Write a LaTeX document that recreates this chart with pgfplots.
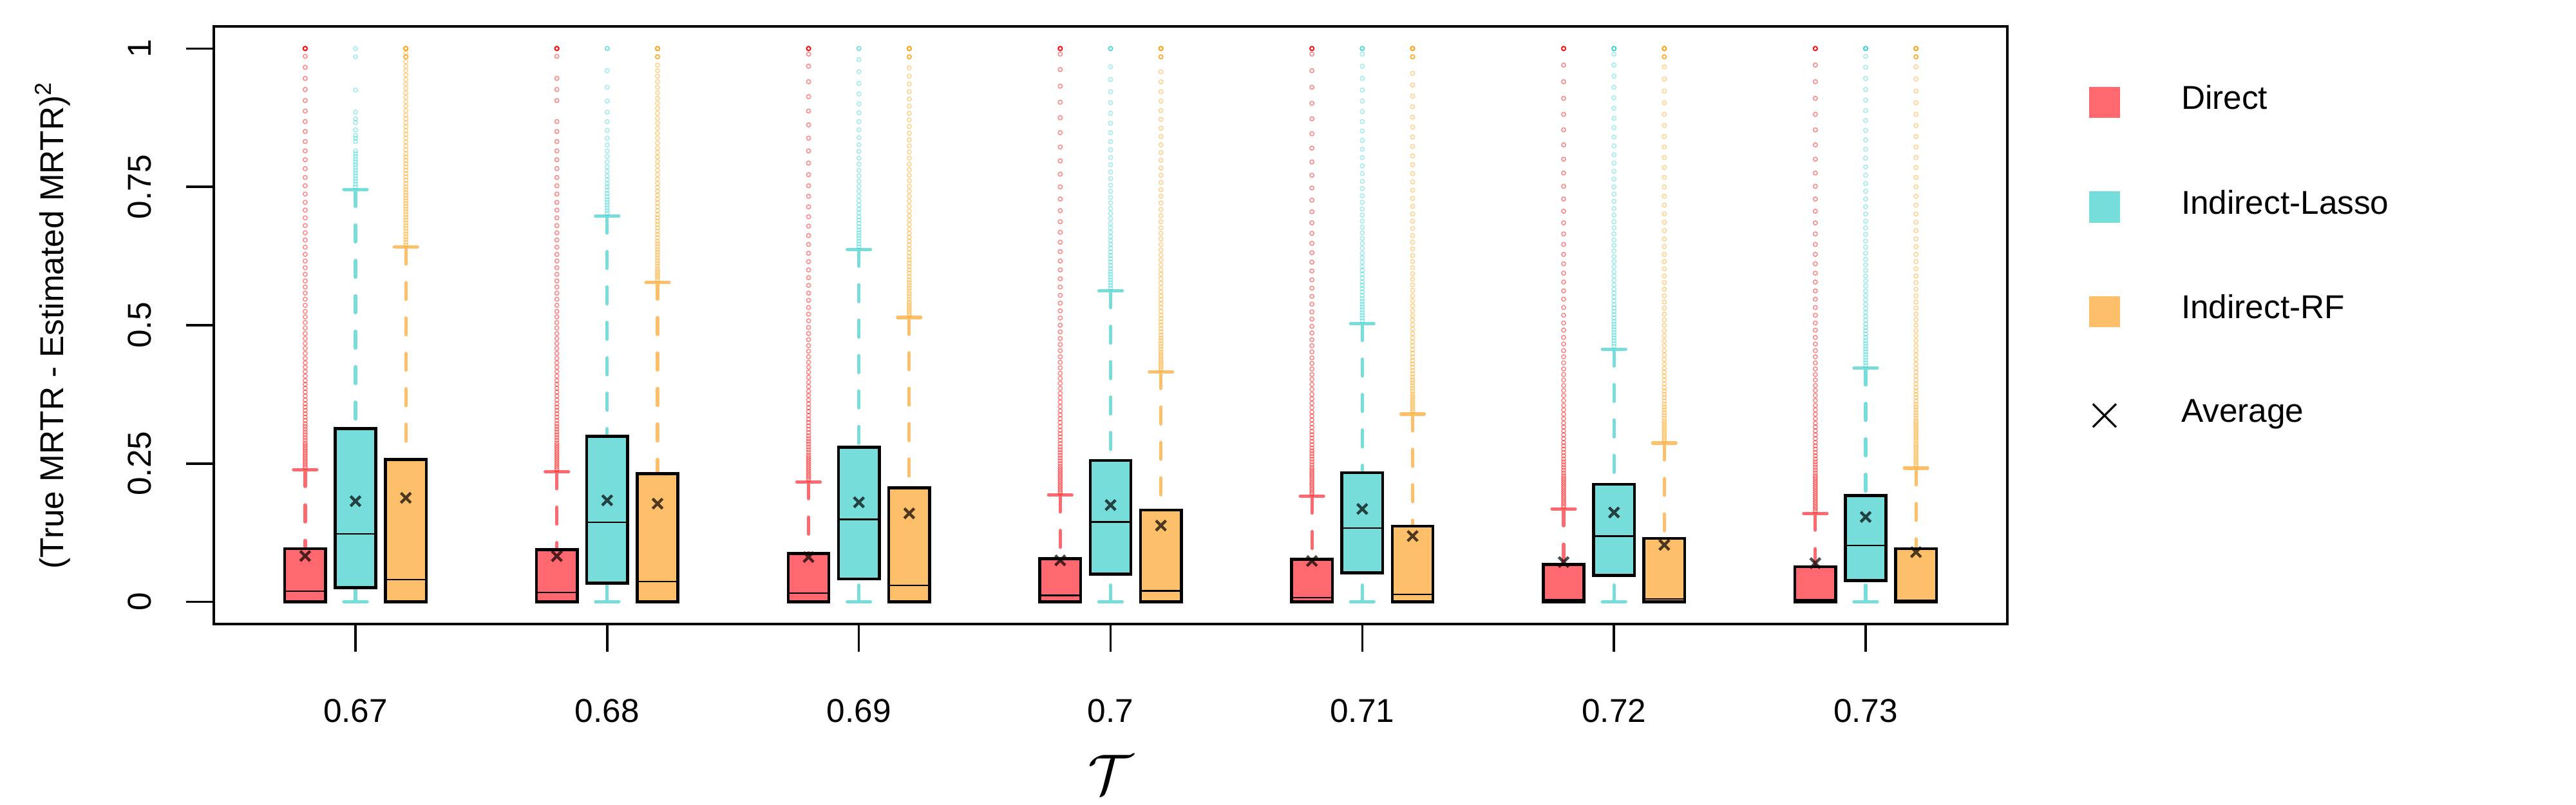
\documentclass[border=0pt]{standalone}
\usepackage{fontspec}
\setmainfont{Liberation Sans}
\usepackage{pgfplots}
\pgfplotsset{compat=1.18}
\usepgfplotslibrary{statistics}
\definecolor{dfill}{RGB}{255,104,110}
\definecolor{lfill}{RGB}{118,221,218}
\definecolor{rfill}{RGB}{253,191,106}
\definecolor{dout}{RGB}{255,0,0}
\definecolor{lout}{RGB}{0,200,200}
\definecolor{rout}{RGB}{255,153,0}
\newcommand{\fs}{\fontsize{14.6}{17}\selectfont}
\pgfplotsset{
  bxcommon/.style={
    boxplot/draw direction=y,
    boxplot/box extend=0.162,
    boxplot/whisker extend=0,
    boxplot/every whisker/.style={draw=none},
    boxplot/every median/.style={draw=black, line width=0.65pt},
    mark=o, mark size=0.9pt,
  },
  dbox/.style={bxcommon,
    boxplot/every box/.style={draw=black, line width=1.3pt, fill=dfill},
    mark options={solid, draw=dout, draw opacity=0.45, fill opacity=0, line width=0.45pt}},
  lbox/.style={bxcommon,
    boxplot/every box/.style={draw=black, line width=1.3pt, fill=lfill},
    mark options={solid, draw=lout, draw opacity=0.35, fill opacity=0, line width=0.45pt}},
  rbox/.style={bxcommon,
    boxplot/every box/.style={draw=black, line width=1.3pt, fill=rfill},
    mark options={solid, draw=rout, draw opacity=0.42, fill opacity=0, line width=0.45pt}},
  whisk/.style={#1, line width=1.5pt, line cap=round, dash pattern=on 0.26cm off 0.29cm, unbounded coords=jump, forget plot},
  staple/.style={#1, line width=1.5pt, line cap=round, unbounded coords=jump, forget plot},
}
\begin{document}
\begin{tikzpicture}
\path[use as bounding box] (-3.32,-2.81) rectangle (36.68,9.69);
\begin{axis}[
  at={(0,0)}, anchor=south west,
  scale only axis, width=27.85cm, height=9.28cm,
  xmin=0.437, xmax=7.563, ymin=-0.04, ymax=1.04,
  axis line style={line width=1pt},
  tick align=outside, tick pos=left,
  major tick length=0.43cm,
  every tick/.style={black, line width=1pt},
  xtick={1,2,3,4,5,6,7},
  xticklabels={0.67,0.68,0.69,0.7,0.71,0.72,0.73},
  ytick={0,0.25,0.5,0.75,1},
  yticklabels={0,0.25,0.5,0.75,1},
  /pgf/number format/assume math mode=true,
  ticklabel style={font=\fs},
  xticklabel style={anchor=base, yshift=-1.09cm},
  yticklabel style={rotate=90, anchor=base, yshift=0.54cm},
  xlabel={$\mathcal{T}$},
  xlabel style={at={(axis description cs:0.5,-0.2834)}, anchor=base, font=\fontsize{33}{40}\selectfont},
  ylabel={(True MRTR - Estimated MRTR)\textsuperscript{2}},
  ylabel style={at={(axis description cs:-0.084,0.5)}, anchor=base, font=\fs},
  legend style={at={(1,1)}, anchor=north west, xshift=1.26cm, yshift=-0.91cm,
    draw=none, fill=none, inner sep=0pt, row sep=1.12cm, column sep=0.95cm, font=\fs,
    nodes={inner sep=0pt}},
  legend cell align=left,
]
\addlegendimage{legend image code/.code={\fill[dfill] (0cm,-0.285cm) rectangle (0.47cm,0.185cm);}}
\addlegendimage{legend image code/.code={\fill[lfill] (0cm,-0.285cm) rectangle (0.47cm,0.185cm);}}
\addlegendimage{legend image code/.code={\fill[rfill] (0cm,-0.285cm) rectangle (0.47cm,0.185cm);}}
\addlegendimage{legend image code/.code={\draw[black, line width=0.9pt] (0.055cm,-0.23cm) -- (0.415cm,0.13cm) (0.055cm,0.13cm) -- (0.415cm,-0.23cm);}}

% ---------- whiskers (dashed, from whisker end to box) ----------
\addplot[whisk=dfill] coordinates {
 (0.8,0.239)(0.8,0.096) (nan,nan) (1.8,0.235)(1.8,0.0945) (nan,nan) (2.8,0.217)(2.8,0.0875) (nan,nan)
 (3.8,0.193)(3.8,0.0778) (nan,nan) (4.8,0.191)(4.8,0.077) (nan,nan) (5.8,0.168)(5.8,0.0675) (nan,nan) (6.8,0.160)(6.8,0.0638)};
\addplot[whisk=lfill] coordinates {
 (1,0.745)(1,0.313) (nan,nan) (2,0.697)(2,0.299) (nan,nan) (3,0.637)(3,0.2795) (nan,nan)
 (4,0.562)(4,0.2557) (nan,nan) (5,0.5026)(5,0.2335) (nan,nan) (6,0.4566)(6,0.2127) (nan,nan) (7,0.4225)(7,0.192)
 (nan,nan) (1,0)(1,0.0256) (nan,nan) (2,0)(2,0.0338) (nan,nan) (3,0)(3,0.0415) (nan,nan) (4,0)(4,0.0504)
 (nan,nan) (5,0)(5,0.0526) (nan,nan) (6,0)(6,0.048) (nan,nan) (7,0)(7,0.0385)};
\addplot[whisk=rfill] coordinates {
 (1.2,0.641)(1.2,0.2575) (nan,nan) (2.2,0.5775)(2.2,0.2316) (nan,nan) (3.2,0.514)(3.2,0.206) (nan,nan)
 (4.2,0.416)(4.2,0.166) (nan,nan) (5.2,0.3395)(5.2,0.137) (nan,nan) (6.2,0.287)(6.2,0.115) (nan,nan) (7.2,0.2417)(7.2,0.0964)};
% ---------- staples ----------
\addplot[staple=dfill] coordinates {
 (0.754,0.239)(0.846,0.239) (nan,nan) (1.754,0.235)(1.846,0.235) (nan,nan) (2.754,0.217)(2.846,0.217) (nan,nan)
 (3.754,0.193)(3.846,0.193) (nan,nan) (4.754,0.191)(4.846,0.191) (nan,nan) (5.754,0.168)(5.846,0.168) (nan,nan) (6.754,0.160)(6.846,0.160)};
\addplot[staple=lfill] coordinates {
 (0.954,0.745)(1.046,0.745) (nan,nan) (1.954,0.697)(2.046,0.697) (nan,nan) (2.954,0.637)(3.046,0.637) (nan,nan)
 (3.954,0.562)(4.046,0.562) (nan,nan) (4.954,0.5026)(5.046,0.5026) (nan,nan) (5.954,0.4566)(6.046,0.4566) (nan,nan) (6.954,0.4225)(7.046,0.4225)
 (nan,nan) (0.954,0)(1.046,0) (nan,nan) (1.954,0)(2.046,0) (nan,nan) (2.954,0)(3.046,0) (nan,nan) (3.954,0)(4.046,0)
 (nan,nan) (4.954,0)(5.046,0) (nan,nan) (5.954,0)(6.046,0) (nan,nan) (6.954,0)(7.046,0)};
\addplot[staple=rfill] coordinates {
 (1.154,0.641)(1.246,0.641) (nan,nan) (2.154,0.5775)(2.246,0.5775) (nan,nan) (3.154,0.514)(3.246,0.514) (nan,nan)
 (4.154,0.416)(4.246,0.416) (nan,nan) (5.154,0.3395)(5.246,0.3395) (nan,nan) (6.154,0.287)(6.246,0.287) (nan,nan) (7.154,0.2417)(7.246,0.2417)};

% ---------- tau = 0.67 ----------
\addplot[boxplot prepared={draw position=0.8, lower whisker=0, lower quartile=0, median=0.0197, upper quartile=0.096, upper whisker=0.096}, dbox]
 table[row sep=\\, y index=0] {v\\ 0.243\\ 0.247\\ 0.251\\ 0.255\\ 0.259\\ 0.263\\ 0.267\\ 0.271\\ 0.275\\ 0.279\\ 0.283\\ 0.287\\ 0.292\\ 0.297\\ 0.302\\ 0.307\\ 0.312\\ 0.317\\ 0.322\\ 0.328\\ 0.334\\ 0.34\\ 0.346\\ 0.352\\ 0.358\\ 0.365\\ 0.372\\ 0.379\\ 0.386\\ 0.393\\ 0.4\\ 0.408\\ 0.416\\ 0.424\\ 0.432\\ 0.44\\ 0.449\\ 0.458\\ 0.467\\ 0.476\\ 0.485\\ 0.495\\ 0.505\\ 0.515\\ 0.525\\ 0.536\\ 0.547\\ 0.558\\ 0.569\\ 0.58\\ 0.592\\ 0.604\\ 0.616\\ 0.628\\ 0.641\\ 0.654\\ 0.667\\ 0.68\\ 0.694\\ 0.708\\ 0.722\\ 0.737\\ 0.752\\ 0.767\\ 0.783\\ 0.799\\ 0.815\\ 0.832\\ 0.85\\ 0.868\\ 0.887\\ 0.906\\ 0.926\\ 0.946\\ 0.966\\ 0.986\\ 1\\ 1\\ 1\\ 1\\ 1\\ 1\\};
\addplot[boxplot prepared={draw position=1, lower whisker=0.0256, lower quartile=0.0256, median=0.1226, upper quartile=0.313, upper whisker=0.313}, lbox]
 table[row sep=\\, y index=0] {v\\ 0.75\\ 0.755\\ 0.76\\ 0.765\\ 0.77\\ 0.775\\ 0.78\\ 0.785\\ 0.79\\ 0.795\\ 0.8\\ 0.805\\ 0.81\\ 0.815\\ 0.832\\ 0.838\\ 0.843\\ 0.853\\ 0.866\\ 0.873\\ 0.885\\ 0.925\\ 0.985\\ 1\\};
\addplot[boxplot prepared={draw position=1.2, lower whisker=0, lower quartile=0, median=0.0405, upper quartile=0.2575, upper whisker=0.2575}, rbox]
 table[row sep=\\, y index=0] {v\\ 0.645\\ 0.65\\ 0.655\\ 0.66\\ 0.665\\ 0.67\\ 0.675\\ 0.68\\ 0.685\\ 0.69\\ 0.695\\ 0.7\\ 0.705\\ 0.71\\ 0.715\\ 0.72\\ 0.725\\ 0.73\\ 0.735\\ 0.74\\ 0.745\\ 0.75\\ 0.756\\ 0.762\\ 0.768\\ 0.774\\ 0.78\\ 0.786\\ 0.792\\ 0.798\\ 0.804\\ 0.81\\ 0.817\\ 0.824\\ 0.831\\ 0.838\\ 0.845\\ 0.852\\ 0.859\\ 0.866\\ 0.873\\ 0.88\\ 0.888\\ 0.896\\ 0.904\\ 0.912\\ 0.92\\ 0.928\\ 0.936\\ 0.944\\ 0.952\\ 0.96\\ 0.968\\ 0.976\\ 0.985\\ 0.985\\ 0.985\\ 0.992\\ 1\\ 1\\ 1\\ 1\\ 1\\};

% ---------- tau = 0.68 ----------
\addplot[boxplot prepared={draw position=1.8, lower whisker=0, lower quartile=0, median=0.0168, upper quartile=0.0945, upper whisker=0.0945}, dbox]
 table[row sep=\\, y index=0] {v\\ 0.239\\ 0.243\\ 0.247\\ 0.251\\ 0.255\\ 0.259\\ 0.263\\ 0.267\\ 0.271\\ 0.275\\ 0.279\\ 0.283\\ 0.287\\ 0.292\\ 0.297\\ 0.302\\ 0.307\\ 0.312\\ 0.317\\ 0.322\\ 0.328\\ 0.334\\ 0.34\\ 0.346\\ 0.352\\ 0.358\\ 0.365\\ 0.372\\ 0.379\\ 0.386\\ 0.393\\ 0.4\\ 0.408\\ 0.416\\ 0.424\\ 0.432\\ 0.44\\ 0.449\\ 0.458\\ 0.467\\ 0.476\\ 0.485\\ 0.495\\ 0.505\\ 0.515\\ 0.525\\ 0.536\\ 0.547\\ 0.558\\ 0.569\\ 0.58\\ 0.592\\ 0.604\\ 0.616\\ 0.628\\ 0.641\\ 0.654\\ 0.667\\ 0.68\\ 0.694\\ 0.708\\ 0.722\\ 0.737\\ 0.752\\ 0.767\\ 0.783\\ 0.799\\ 0.815\\ 0.832\\ 0.85\\ 0.868\\ 0.906\\ 0.926\\ 0.946\\ 0.986\\ 1\\ 1\\ 1\\ 1\\ 1\\ 1\\};
\addplot[boxplot prepared={draw position=2, lower whisker=0.0338, lower quartile=0.0338, median=0.144, upper quartile=0.299, upper whisker=0.299}, lbox]
 table[row sep=\\, y index=0] {v\\ 0.702\\ 0.707\\ 0.712\\ 0.717\\ 0.722\\ 0.727\\ 0.732\\ 0.738\\ 0.744\\ 0.75\\ 0.756\\ 0.763\\ 0.77\\ 0.778\\ 0.786\\ 0.795\\ 0.805\\ 0.815\\ 0.826\\ 0.838\\ 0.852\\ 0.868\\ 0.885\\ 0.905\\ 0.93\\ 0.96\\ 1\\ 1\\};
\addplot[boxplot prepared={draw position=2.2, lower whisker=0, lower quartile=0, median=0.0368, upper quartile=0.2316, upper whisker=0.2316}, rbox]
 table[row sep=\\, y index=0] {v\\ 0.582\\ 0.586\\ 0.59\\ 0.594\\ 0.598\\ 0.602\\ 0.607\\ 0.612\\ 0.617\\ 0.622\\ 0.627\\ 0.632\\ 0.637\\ 0.642\\ 0.647\\ 0.652\\ 0.658\\ 0.664\\ 0.67\\ 0.676\\ 0.682\\ 0.688\\ 0.694\\ 0.7\\ 0.707\\ 0.714\\ 0.721\\ 0.728\\ 0.735\\ 0.742\\ 0.749\\ 0.756\\ 0.764\\ 0.772\\ 0.78\\ 0.788\\ 0.796\\ 0.804\\ 0.812\\ 0.82\\ 0.829\\ 0.838\\ 0.847\\ 0.856\\ 0.865\\ 0.874\\ 0.883\\ 0.892\\ 0.901\\ 0.91\\ 0.92\\ 0.93\\ 0.94\\ 0.95\\ 0.96\\ 0.97\\ 0.985\\ 0.985\\ 0.985\\ 1\\ 1\\ 1\\ 1\\ 1\\};

% ---------- tau = 0.69 ----------
\addplot[boxplot prepared={draw position=2.8, lower whisker=0, lower quartile=0, median=0.0156, upper quartile=0.0875, upper whisker=0.0875}, dbox]
 table[row sep=\\, y index=0] {v\\ 0.221\\ 0.225\\ 0.229\\ 0.233\\ 0.237\\ 0.241\\ 0.245\\ 0.249\\ 0.253\\ 0.257\\ 0.261\\ 0.265\\ 0.27\\ 0.275\\ 0.28\\ 0.285\\ 0.29\\ 0.295\\ 0.3\\ 0.306\\ 0.312\\ 0.318\\ 0.324\\ 0.33\\ 0.337\\ 0.344\\ 0.351\\ 0.358\\ 0.365\\ 0.373\\ 0.381\\ 0.389\\ 0.397\\ 0.406\\ 0.415\\ 0.424\\ 0.433\\ 0.443\\ 0.453\\ 0.463\\ 0.474\\ 0.485\\ 0.496\\ 0.508\\ 0.52\\ 0.532\\ 0.545\\ 0.558\\ 0.572\\ 0.586\\ 0.6\\ 0.615\\ 0.63\\ 0.646\\ 0.662\\ 0.679\\ 0.696\\ 0.714\\ 0.733\\ 0.752\\ 0.772\\ 0.793\\ 0.815\\ 0.838\\ 0.862\\ 0.887\\ 0.913\\ 0.94\\ 0.968\\ 0.99\\ 1\\ 1\\ 1\\ 1\\ 1\\};
\addplot[boxplot prepared={draw position=3, lower whisker=0.0415, lower quartile=0.0415, median=0.149, upper quartile=0.2795, upper whisker=0.2795}, lbox]
 table[row sep=\\, y index=0] {v\\ 0.642\\ 0.647\\ 0.652\\ 0.657\\ 0.662\\ 0.667\\ 0.672\\ 0.678\\ 0.684\\ 0.69\\ 0.696\\ 0.703\\ 0.71\\ 0.717\\ 0.725\\ 0.733\\ 0.742\\ 0.751\\ 0.76\\ 0.77\\ 0.78\\ 0.791\\ 0.802\\ 0.814\\ 0.826\\ 0.839\\ 0.853\\ 0.868\\ 0.884\\ 0.9\\ 0.918\\ 0.937\\ 0.958\\ 0.98\\ 1\\ 1\\};
\addplot[boxplot prepared={draw position=3.2, lower whisker=0, lower quartile=0, median=0.0297, upper quartile=0.206, upper whisker=0.206}, rbox]
 table[row sep=\\, y index=0] {v\\ 0.518\\ 0.522\\ 0.526\\ 0.53\\ 0.534\\ 0.538\\ 0.542\\ 0.547\\ 0.552\\ 0.557\\ 0.562\\ 0.567\\ 0.572\\ 0.577\\ 0.582\\ 0.588\\ 0.594\\ 0.6\\ 0.606\\ 0.612\\ 0.618\\ 0.624\\ 0.631\\ 0.638\\ 0.645\\ 0.652\\ 0.659\\ 0.666\\ 0.674\\ 0.682\\ 0.69\\ 0.698\\ 0.706\\ 0.715\\ 0.724\\ 0.733\\ 0.742\\ 0.751\\ 0.761\\ 0.771\\ 0.781\\ 0.791\\ 0.802\\ 0.813\\ 0.824\\ 0.835\\ 0.847\\ 0.859\\ 0.871\\ 0.883\\ 0.896\\ 0.909\\ 0.922\\ 0.936\\ 0.95\\ 0.965\\ 0.985\\ 0.985\\ 0.985\\ 1\\ 1\\ 1\\ 1\\ 1\\};

% ---------- tau = 0.70 ----------
\addplot[boxplot prepared={draw position=3.8, lower whisker=0, lower quartile=0, median=0.0119, upper quartile=0.0778, upper whisker=0.0778}, dbox]
 table[row sep=\\, y index=0] {v\\ 0.197\\ 0.201\\ 0.205\\ 0.209\\ 0.213\\ 0.217\\ 0.221\\ 0.225\\ 0.229\\ 0.233\\ 0.237\\ 0.241\\ 0.245\\ 0.25\\ 0.255\\ 0.26\\ 0.265\\ 0.27\\ 0.275\\ 0.28\\ 0.286\\ 0.292\\ 0.298\\ 0.304\\ 0.31\\ 0.317\\ 0.324\\ 0.331\\ 0.338\\ 0.345\\ 0.353\\ 0.361\\ 0.369\\ 0.377\\ 0.386\\ 0.395\\ 0.404\\ 0.413\\ 0.423\\ 0.433\\ 0.443\\ 0.454\\ 0.465\\ 0.476\\ 0.488\\ 0.5\\ 0.513\\ 0.526\\ 0.54\\ 0.554\\ 0.569\\ 0.584\\ 0.6\\ 0.616\\ 0.633\\ 0.65\\ 0.668\\ 0.687\\ 0.707\\ 0.728\\ 0.75\\ 0.773\\ 0.797\\ 0.822\\ 0.848\\ 0.875\\ 0.903\\ 0.932\\ 0.962\\ 0.99\\ 1\\ 1\\ 1\\ 1\\ 1\\};
\addplot[boxplot prepared={draw position=4, lower whisker=0.0504, lower quartile=0.0504, median=0.1446, upper quartile=0.2557, upper whisker=0.2557}, lbox]
 table[row sep=\\, y index=0] {v\\ 0.567\\ 0.572\\ 0.577\\ 0.582\\ 0.587\\ 0.592\\ 0.597\\ 0.602\\ 0.608\\ 0.614\\ 0.62\\ 0.626\\ 0.632\\ 0.639\\ 0.646\\ 0.653\\ 0.66\\ 0.668\\ 0.676\\ 0.684\\ 0.693\\ 0.702\\ 0.711\\ 0.721\\ 0.731\\ 0.742\\ 0.753\\ 0.765\\ 0.777\\ 0.79\\ 0.803\\ 0.817\\ 0.832\\ 0.848\\ 0.865\\ 0.883\\ 0.902\\ 0.922\\ 0.944\\ 0.967\\ 1\\ 1\\ 1\\};
\addplot[boxplot prepared={draw position=4.2, lower whisker=0, lower quartile=0, median=0.020, upper quartile=0.166, upper whisker=0.166}, rbox]
 table[row sep=\\, y index=0] {v\\ 0.42\\ 0.424\\ 0.428\\ 0.432\\ 0.436\\ 0.44\\ 0.444\\ 0.448\\ 0.452\\ 0.457\\ 0.462\\ 0.467\\ 0.472\\ 0.477\\ 0.482\\ 0.488\\ 0.494\\ 0.5\\ 0.506\\ 0.512\\ 0.518\\ 0.525\\ 0.532\\ 0.539\\ 0.546\\ 0.553\\ 0.56\\ 0.568\\ 0.576\\ 0.584\\ 0.592\\ 0.6\\ 0.609\\ 0.618\\ 0.627\\ 0.636\\ 0.646\\ 0.656\\ 0.666\\ 0.676\\ 0.687\\ 0.698\\ 0.709\\ 0.721\\ 0.733\\ 0.745\\ 0.758\\ 0.771\\ 0.784\\ 0.798\\ 0.812\\ 0.826\\ 0.841\\ 0.856\\ 0.872\\ 0.888\\ 0.905\\ 0.922\\ 0.94\\ 0.958\\ 0.985\\ 0.985\\ 0.985\\ 1\\ 1\\ 1\\ 1\\ 1\\};

% ---------- tau = 0.71 ----------
\addplot[boxplot prepared={draw position=4.8, lower whisker=0, lower quartile=0, median=0.008, upper quartile=0.077, upper whisker=0.077}, dbox]
 table[row sep=\\, y index=0] {v\\ 0.195\\ 0.199\\ 0.203\\ 0.207\\ 0.211\\ 0.215\\ 0.219\\ 0.223\\ 0.227\\ 0.231\\ 0.235\\ 0.239\\ 0.243\\ 0.248\\ 0.253\\ 0.258\\ 0.263\\ 0.268\\ 0.273\\ 0.278\\ 0.284\\ 0.29\\ 0.296\\ 0.302\\ 0.308\\ 0.315\\ 0.322\\ 0.329\\ 0.336\\ 0.343\\ 0.351\\ 0.359\\ 0.367\\ 0.375\\ 0.384\\ 0.393\\ 0.402\\ 0.411\\ 0.421\\ 0.431\\ 0.441\\ 0.452\\ 0.463\\ 0.474\\ 0.486\\ 0.498\\ 0.511\\ 0.524\\ 0.538\\ 0.552\\ 0.567\\ 0.582\\ 0.598\\ 0.614\\ 0.631\\ 0.648\\ 0.666\\ 0.685\\ 0.705\\ 0.726\\ 0.748\\ 0.771\\ 0.795\\ 0.82\\ 0.846\\ 0.873\\ 0.901\\ 0.93\\ 0.96\\ 0.99\\ 1\\ 1\\ 1\\ 1\\ 1\\};
\addplot[boxplot prepared={draw position=5, lower whisker=0.0526, lower quartile=0.0526, median=0.1334, upper quartile=0.2335, upper whisker=0.2335}, lbox]
 table[row sep=\\, y index=0] {v\\ 0.508\\ 0.513\\ 0.518\\ 0.523\\ 0.528\\ 0.533\\ 0.538\\ 0.543\\ 0.548\\ 0.554\\ 0.56\\ 0.566\\ 0.572\\ 0.578\\ 0.585\\ 0.592\\ 0.599\\ 0.606\\ 0.614\\ 0.622\\ 0.63\\ 0.639\\ 0.648\\ 0.657\\ 0.667\\ 0.677\\ 0.688\\ 0.699\\ 0.71\\ 0.722\\ 0.734\\ 0.747\\ 0.76\\ 0.774\\ 0.788\\ 0.803\\ 0.818\\ 0.834\\ 0.851\\ 0.868\\ 0.886\\ 0.905\\ 0.925\\ 0.946\\ 0.968\\ 0.99\\ 1\\ 1\\ 1\\};
\addplot[boxplot prepared={draw position=5.2, lower whisker=0, lower quartile=0, median=0.0133, upper quartile=0.137, upper whisker=0.137}, rbox]
 table[row sep=\\, y index=0] {v\\ 0.344\\ 0.348\\ 0.352\\ 0.356\\ 0.36\\ 0.364\\ 0.368\\ 0.372\\ 0.376\\ 0.381\\ 0.386\\ 0.391\\ 0.396\\ 0.401\\ 0.406\\ 0.412\\ 0.418\\ 0.424\\ 0.43\\ 0.436\\ 0.442\\ 0.449\\ 0.456\\ 0.463\\ 0.47\\ 0.477\\ 0.485\\ 0.493\\ 0.501\\ 0.509\\ 0.517\\ 0.526\\ 0.535\\ 0.544\\ 0.553\\ 0.563\\ 0.573\\ 0.583\\ 0.593\\ 0.604\\ 0.615\\ 0.626\\ 0.638\\ 0.65\\ 0.662\\ 0.675\\ 0.688\\ 0.701\\ 0.715\\ 0.729\\ 0.744\\ 0.759\\ 0.774\\ 0.79\\ 0.806\\ 0.823\\ 0.84\\ 0.858\\ 0.876\\ 0.895\\ 0.914\\ 0.934\\ 0.955\\ 0.985\\ 0.985\\ 0.985\\ 1\\ 1\\ 1\\ 1\\ 1\\};

% ---------- tau = 0.72 ----------
\addplot[boxplot prepared={draw position=5.8, lower whisker=0, lower quartile=0, median=0.0044, upper quartile=0.0675, upper whisker=0.0675}, dbox]
 table[row sep=\\, y index=0] {v\\ 0.172\\ 0.176\\ 0.18\\ 0.184\\ 0.188\\ 0.192\\ 0.196\\ 0.2\\ 0.204\\ 0.208\\ 0.212\\ 0.216\\ 0.22\\ 0.224\\ 0.228\\ 0.233\\ 0.238\\ 0.243\\ 0.248\\ 0.253\\ 0.258\\ 0.264\\ 0.27\\ 0.276\\ 0.282\\ 0.288\\ 0.295\\ 0.302\\ 0.309\\ 0.316\\ 0.323\\ 0.331\\ 0.339\\ 0.347\\ 0.355\\ 0.364\\ 0.373\\ 0.382\\ 0.391\\ 0.401\\ 0.411\\ 0.421\\ 0.432\\ 0.443\\ 0.454\\ 0.466\\ 0.478\\ 0.491\\ 0.504\\ 0.518\\ 0.532\\ 0.547\\ 0.562\\ 0.578\\ 0.594\\ 0.611\\ 0.628\\ 0.646\\ 0.665\\ 0.685\\ 0.706\\ 0.728\\ 0.751\\ 0.775\\ 0.8\\ 0.826\\ 0.853\\ 0.881\\ 0.91\\ 0.94\\ 0.97\\ 1\\ 1\\ 1\\ 1\\ 1\\};
\addplot[boxplot prepared={draw position=6, lower whisker=0.048, lower quartile=0.048, median=0.119, upper quartile=0.2127, upper whisker=0.2127}, lbox]
 table[row sep=\\, y index=0] {v\\ 0.462\\ 0.467\\ 0.472\\ 0.477\\ 0.482\\ 0.487\\ 0.492\\ 0.497\\ 0.502\\ 0.507\\ 0.513\\ 0.519\\ 0.525\\ 0.531\\ 0.537\\ 0.544\\ 0.551\\ 0.558\\ 0.565\\ 0.573\\ 0.581\\ 0.589\\ 0.597\\ 0.606\\ 0.615\\ 0.624\\ 0.634\\ 0.644\\ 0.654\\ 0.665\\ 0.676\\ 0.687\\ 0.699\\ 0.711\\ 0.724\\ 0.737\\ 0.75\\ 0.764\\ 0.778\\ 0.793\\ 0.808\\ 0.824\\ 0.84\\ 0.857\\ 0.874\\ 0.892\\ 0.911\\ 0.93\\ 0.95\\ 0.97\\ 0.99\\ 1\\ 1\\ 1\\ 1\\};
\addplot[boxplot prepared={draw position=6.2, lower whisker=0, lower quartile=0, median=0.005, upper quartile=0.115, upper whisker=0.115}, rbox]
 table[row sep=\\, y index=0] {v\\ 0.291\\ 0.295\\ 0.299\\ 0.303\\ 0.307\\ 0.311\\ 0.315\\ 0.319\\ 0.323\\ 0.327\\ 0.332\\ 0.337\\ 0.342\\ 0.347\\ 0.352\\ 0.357\\ 0.363\\ 0.369\\ 0.375\\ 0.381\\ 0.387\\ 0.394\\ 0.401\\ 0.408\\ 0.415\\ 0.422\\ 0.43\\ 0.438\\ 0.446\\ 0.454\\ 0.463\\ 0.472\\ 0.481\\ 0.49\\ 0.5\\ 0.51\\ 0.52\\ 0.531\\ 0.542\\ 0.553\\ 0.565\\ 0.577\\ 0.589\\ 0.602\\ 0.615\\ 0.628\\ 0.642\\ 0.656\\ 0.671\\ 0.686\\ 0.701\\ 0.717\\ 0.733\\ 0.75\\ 0.767\\ 0.785\\ 0.803\\ 0.822\\ 0.841\\ 0.861\\ 0.881\\ 0.902\\ 0.923\\ 0.945\\ 0.967\\ 0.985\\ 0.985\\ 0.985\\ 1\\ 1\\ 1\\ 1\\ 1\\};

% ---------- tau = 0.73 ----------
\addplot[boxplot prepared={draw position=6.8, lower whisker=0, lower quartile=0, median=0.0037, upper quartile=0.0638, upper whisker=0.0638}, dbox]
 table[row sep=\\, y index=0] {v\\ 0.164\\ 0.168\\ 0.172\\ 0.176\\ 0.18\\ 0.184\\ 0.188\\ 0.192\\ 0.196\\ 0.2\\ 0.204\\ 0.208\\ 0.212\\ 0.216\\ 0.22\\ 0.224\\ 0.228\\ 0.233\\ 0.238\\ 0.243\\ 0.248\\ 0.253\\ 0.258\\ 0.264\\ 0.27\\ 0.276\\ 0.282\\ 0.288\\ 0.295\\ 0.302\\ 0.309\\ 0.316\\ 0.323\\ 0.331\\ 0.339\\ 0.347\\ 0.355\\ 0.364\\ 0.373\\ 0.382\\ 0.391\\ 0.401\\ 0.411\\ 0.421\\ 0.432\\ 0.443\\ 0.454\\ 0.466\\ 0.478\\ 0.491\\ 0.504\\ 0.518\\ 0.532\\ 0.547\\ 0.562\\ 0.578\\ 0.594\\ 0.611\\ 0.628\\ 0.646\\ 0.665\\ 0.685\\ 0.706\\ 0.728\\ 0.751\\ 0.775\\ 0.8\\ 0.826\\ 0.853\\ 0.881\\ 0.91\\ 0.94\\ 0.97\\ 1\\ 1\\ 1\\ 1\\ 1\\};
\addplot[boxplot prepared={draw position=7, lower whisker=0.0385, lower quartile=0.0385, median=0.1016, upper quartile=0.192, upper whisker=0.192}, lbox]
 table[row sep=\\, y index=0] {v\\ 0.427\\ 0.432\\ 0.437\\ 0.442\\ 0.447\\ 0.452\\ 0.457\\ 0.462\\ 0.467\\ 0.472\\ 0.478\\ 0.484\\ 0.49\\ 0.496\\ 0.502\\ 0.509\\ 0.516\\ 0.523\\ 0.53\\ 0.538\\ 0.546\\ 0.554\\ 0.562\\ 0.571\\ 0.58\\ 0.589\\ 0.599\\ 0.609\\ 0.619\\ 0.63\\ 0.641\\ 0.652\\ 0.664\\ 0.676\\ 0.688\\ 0.701\\ 0.714\\ 0.728\\ 0.742\\ 0.756\\ 0.771\\ 0.786\\ 0.802\\ 0.818\\ 0.835\\ 0.852\\ 0.87\\ 0.888\\ 0.907\\ 0.926\\ 0.946\\ 0.966\\ 0.986\\ 1\\ 1\\ 1\\ 1\\};
\addplot[boxplot prepared={draw position=7.2, lower whisker=0, lower quartile=0, median=0.003, upper quartile=0.0964, upper whisker=0.0964}, rbox]
 table[row sep=\\, y index=0] {v\\ 0.246\\ 0.25\\ 0.254\\ 0.258\\ 0.262\\ 0.266\\ 0.27\\ 0.274\\ 0.278\\ 0.282\\ 0.286\\ 0.291\\ 0.295\\ 0.299\\ 0.303\\ 0.307\\ 0.311\\ 0.315\\ 0.319\\ 0.323\\ 0.327\\ 0.332\\ 0.337\\ 0.342\\ 0.347\\ 0.352\\ 0.357\\ 0.363\\ 0.369\\ 0.375\\ 0.381\\ 0.387\\ 0.394\\ 0.401\\ 0.408\\ 0.415\\ 0.422\\ 0.43\\ 0.438\\ 0.446\\ 0.454\\ 0.463\\ 0.472\\ 0.481\\ 0.49\\ 0.5\\ 0.51\\ 0.52\\ 0.531\\ 0.542\\ 0.553\\ 0.565\\ 0.577\\ 0.589\\ 0.602\\ 0.615\\ 0.628\\ 0.642\\ 0.656\\ 0.671\\ 0.686\\ 0.701\\ 0.717\\ 0.733\\ 0.75\\ 0.767\\ 0.785\\ 0.803\\ 0.822\\ 0.841\\ 0.861\\ 0.881\\ 0.902\\ 0.923\\ 0.945\\ 0.967\\ 0.985\\ 0.985\\ 0.985\\ 1\\ 1\\ 1\\ 1\\ 1\\};

% ---------- averages ----------
\addplot[only marks, mark=x, mark size=3.1pt, mark options={draw=black, draw opacity=0.7, line width=1.25pt}] coordinates {
 (0.8,0.083) (1,0.182) (1.2,0.188)
 (1.8,0.0827) (2,0.1835) (2.2,0.1775)
 (2.8,0.081) (3,0.180) (3.2,0.160)
 (3.8,0.075) (4,0.175) (4.2,0.138)
 (4.8,0.074) (5,0.168) (5.2,0.119)
 (5.8,0.072) (6,0.1616) (6.2,0.103)
 (6.8,0.070) (7,0.1534) (7.2,0.090)
};
\legend{Direct, Indirect-Lasso, Indirect-RF, Average}
\end{axis}
\end{tikzpicture}
\end{document}
